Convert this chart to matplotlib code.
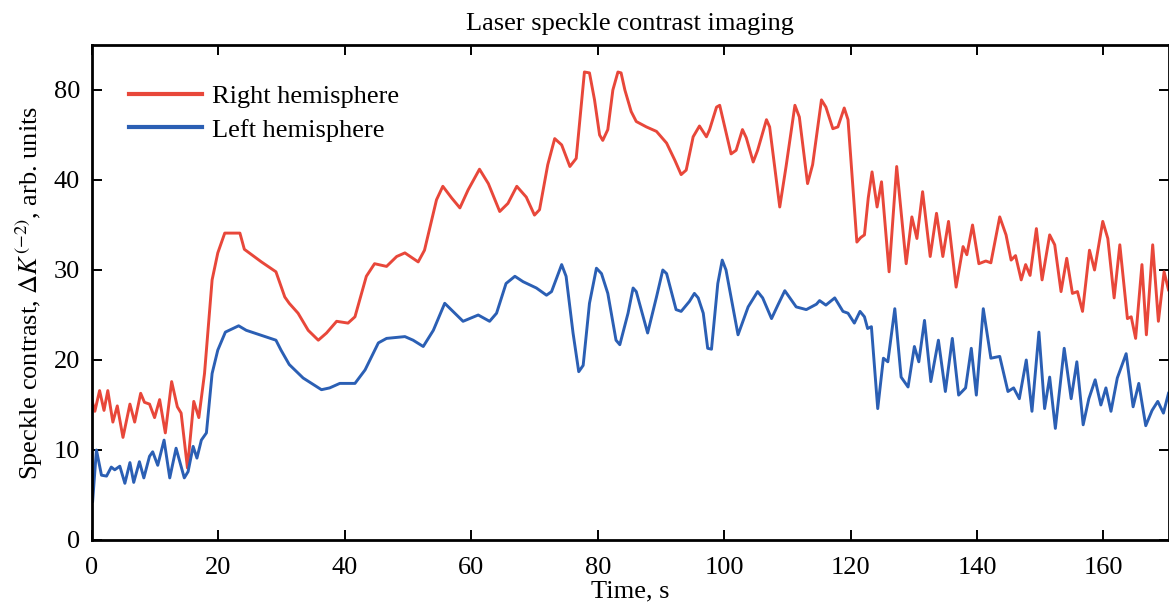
import matplotlib
matplotlib.use("Agg")
import matplotlib.pyplot as plt

# Time axis (s) and readings for both hemispheres
red_t = [0, 0.45, 1.2, 1.9, 2.5, 3.3, 4.0, 4.9, 6.0, 6.75, 7.7, 8.3, 9.1, 9.9, 10.7, 11.6,
         12.6, 13.5, 14.1, 15.1, 16.1, 16.9, 17.8, 19.0, 19.9, 21.0, 23.4, 24.1, 26.8, 29.1,
         30.5, 31.2, 32.6, 34.2, 35.8, 37.1, 38.7, 40.5, 41.6, 43.4, 44.7, 46.6, 48.2, 49.5,
         51.6, 52.6, 54.5, 55.5, 56.9, 58.2, 59.5, 61.3, 62.7, 64.5, 65.8, 67.2, 68.7, 70.0,
         70.8, 72.1, 73.2, 74.3, 75.6, 76.6, 77.9, 78.7, 79.5, 80.3, 80.8, 81.6, 82.4, 83.2,
         83.7, 84.3, 85.3, 86.1, 87.7, 89.3, 90.9, 92.2, 93.2, 94.0, 95.1, 96.1, 97.2, 97.7,
         98.8, 99.3, 100.1, 101.1, 101.9, 102.9, 103.5, 104.6, 105.3, 106.7, 107.2, 108.8,
         109.8, 111.2, 111.9, 113.2, 114.0, 115.4, 116.1, 117.2, 118.0, 119.0, 119.6, 120.4,
         121.0, 121.6, 122.2, 122.8, 123.4, 124.2, 124.9, 126.1, 127.3, 128.8, 129.7, 130.5,
         131.4, 132.6, 133.6, 134.6, 135.5, 136.7, 137.8, 138.4, 139.3, 140.3, 141.4, 142.2,
         143.6, 144.6, 145.4, 146.1, 147.0, 147.7, 148.4, 149.4, 150.3, 151.5, 152.3, 153.3,
         154.2, 155.1, 155.9, 156.7, 157.8, 158.6, 159.9, 160.7, 161.7, 162.6, 163.8, 164.4,
         165.1, 166.1, 166.8, 167.8, 168.7, 169.6, 170.3]
red_v = [15.5, 14.3, 16.6, 14.4, 16.6, 13.1, 14.9, 11.4, 15.1, 13.1, 16.3, 15.3, 15.1, 13.6, 15.6, 11.9,
         17.6, 14.8, 14.1, 8.0, 15.4, 13.6, 18.5, 28.9, 31.9, 34.1, 34.1, 32.3, 30.9, 29.8,
         27.0, 26.3, 25.2, 23.3, 22.2, 23.0, 24.3, 24.1, 24.8, 29.3, 30.7, 30.4, 31.5, 31.9,
         30.9, 32.2, 37.8, 39.3, 38.0, 36.9, 38.9, 41.2, 39.6, 36.5, 37.4, 39.3, 38.1, 36.1,
         36.7, 41.7, 44.6, 43.9, 41.5, 42.4, 52.0, 51.9, 48.9, 45.0, 44.4, 45.6, 50.0, 52.0,
         51.9, 50.0, 47.6, 46.5, 45.9, 45.4, 44.1, 42.2, 40.6, 41.1, 44.8, 46.0, 44.8, 45.6,
         48.1, 48.3, 45.9, 42.9, 43.3, 45.6, 44.7, 42.0, 43.3, 46.7, 45.9, 37.0,
         41.5, 48.3, 47.0, 39.6, 41.7, 48.9, 48.1, 45.7, 45.9, 48.0, 46.7, 38.9,
         33.1, 33.6, 33.9, 38.0, 40.9, 37.0, 39.8, 29.8, 41.5, 30.7, 35.9, 33.5,
         38.7, 31.5, 36.3, 31.5, 35.4, 28.1, 32.6, 31.7, 35.0, 30.7, 31.0, 30.8,
         35.9, 33.9, 31.1, 31.6, 28.9, 30.6, 29.4, 34.6, 28.9, 33.9, 32.8, 27.6,
         31.3, 27.4, 27.6, 25.4, 32.2, 30.0, 35.4, 33.5, 26.9, 32.8, 24.6, 24.8,
         22.4, 30.6, 22.8, 32.8, 24.3, 29.8, 27.8]

blue_t = [0.1, 0.7, 1.5, 2.3, 3.05, 3.6, 4.4, 5.2, 6.0, 6.6, 7.5, 8.2, 9.1, 9.6, 10.4, 11.4,
          12.3, 13.3, 14.6, 15.2, 16.0, 16.6, 17.3, 18.1, 19.0, 19.9, 21.1, 23.2, 24.4, 29.1,
          29.9, 31.2, 33.4, 36.3, 37.6, 39.2, 41.6, 43.2, 45.3, 46.6, 49.5, 50.8, 52.4, 54.0,
          55.8, 57.1, 58.7, 61.1, 62.9, 64.0, 65.5, 66.9, 68.2, 70.3, 71.9, 72.7, 74.3, 75.0,
          76.1, 77.0, 77.7, 78.7, 79.8, 80.6, 81.6, 82.9, 83.5, 84.8, 85.6, 86.1, 87.9, 89.3,
          90.3, 90.9, 92.4, 93.2, 94.5, 95.3, 95.9, 96.7, 97.4, 98.0, 99.0, 99.7, 100.3, 102.2,
          103.8, 105.3, 106.1, 107.5, 108.5, 109.6, 110.1, 111.4, 113.0, 114.6, 115.1, 116.1,
          117.5, 118.8, 119.6, 120.6, 121.5, 122.2, 122.7, 123.3, 124.3, 125.2, 125.9, 127.0,
          128.0, 129.1, 130.1, 130.8, 131.7, 132.7, 133.9, 135.0, 136.1, 137.1, 138.2, 139.1,
          139.9, 141.0, 142.2, 143.6, 144.9, 145.8, 146.7, 147.8, 148.7, 149.8, 150.7, 151.5,
          152.4, 153.8, 154.9, 155.8, 156.8, 157.7, 158.7, 159.6, 160.4, 161.2, 162.2, 163.6,
          164.7, 165.6, 166.7, 167.7, 168.6, 169.5, 170.3]
blue_v = [4.3, 10.0, 7.2, 7.1, 8.1, 7.8, 8.2, 6.3, 8.6, 6.4, 8.7, 6.9, 9.3, 9.8, 8.3, 11.1,
          6.9, 10.2, 6.9, 7.6, 10.4, 9.1, 11.1, 11.9, 18.5, 21.1, 23.1, 23.8, 23.3, 22.2,
          21.1, 19.5, 18.0, 16.7, 16.9, 17.4, 17.4, 18.9, 21.9, 22.4, 22.6, 22.2, 21.5, 23.3,
          26.3, 25.4, 24.3, 25.0, 24.3, 25.2, 28.5, 29.3, 28.7, 28.0, 27.2, 27.6, 30.6, 29.3,
          23.0, 18.7, 19.4, 26.3, 30.2, 29.6, 27.4, 22.2, 21.7, 25.2, 28.0, 27.6, 23.0, 27.0,
          30.0, 29.6, 25.6, 25.4, 26.5, 27.4, 26.9, 25.2, 21.3, 21.2, 28.5, 31.1, 30.0, 22.8,
          25.9, 27.6, 26.9, 24.6, 26.1, 27.7, 27.2, 25.9, 25.6, 26.2, 26.6, 26.1,
          26.9, 25.4, 25.2, 24.1, 25.4, 24.8, 23.5, 23.7, 14.6, 20.2, 19.8, 25.7,
          18.1, 17.0, 21.5, 19.8, 24.4, 17.6, 22.2, 16.5, 22.4, 16.1, 16.9, 21.3,
          16.1, 25.7, 20.2, 20.4, 16.5, 16.9, 15.7, 20.0, 14.3, 23.1, 14.6, 18.1,
          12.4, 21.3, 15.7, 19.8, 12.8, 15.7, 17.8, 15.0, 16.9, 14.3, 18.0, 20.7,
          14.8, 17.4, 12.7, 14.4, 15.4, 14.1, 16.3]

y_ticks = [0, 10, 20, 30, 40, 50]
y_tick_labels = ["0", "10", "20", "30", "40", "80"]
x_ticks = [0, 20, 40, 60, 80, 100, 120, 140, 160]

plt.rcParams['font.family'] = ['Liberation Serif', 'DejaVu Serif']
plt.rcParams['mathtext.fontset'] = 'stix'

fig = plt.figure(figsize=(11.69, 6.08), dpi=100)
ax = fig.add_axes([92 / 1169, 68 / 608, (1168.5 - 92) / 1169, 495 / 608])

ax.plot(red_t, red_v, color='#e8473a', lw=2.1, solid_joinstyle='round', label='Right hemisphere')
ax.plot(blue_t, blue_v, color='#2b5fb4', lw=2.1, solid_joinstyle='round', label='Left hemisphere')

ax.set_xlim(0, 170.3)
ax.set_ylim(0, 55)
ax.set_xticks(x_ticks)
ax.set_yticks(y_ticks)
ax.set_yticklabels(y_tick_labels)
ax.tick_params(direction='in', length=7, width=1.4, labelsize=19, top=True, right=True)
ax.tick_params(axis='x', pad=12)
ax.tick_params(axis='y', pad=8.5)
for sp in ax.spines.values():
    sp.set_linewidth(2.0)

ax.set_xlabel('Time, s', fontsize=19, labelpad=1.5)
ax.set_ylabel(r'Speckle contrast, $\Delta K^{(-2)}$, arb. units', fontsize=19, labelpad=6)
ax.set_title('Laser speckle contrast imaging', fontsize=19, pad=11)

leg = ax.legend(loc='upper left', bbox_to_anchor=(0.034, 0.92), frameon=False, fontsize=19,
                handlelength=2.8, handletextpad=0.35, labelspacing=0.38, borderpad=0, borderaxespad=0)
for line in leg.get_lines():
    line.set_linewidth(3.0)

plt.savefig('out.png', dpi=100)
plt.close()
